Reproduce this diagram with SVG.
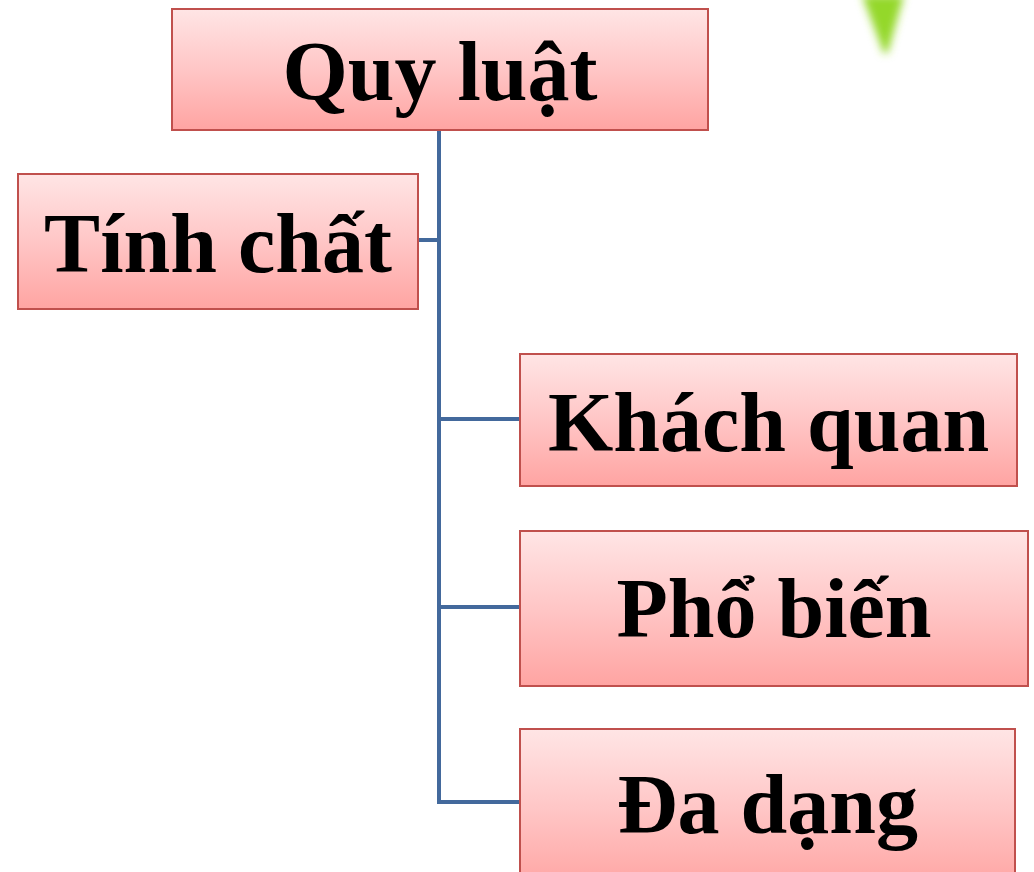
<svg xmlns="http://www.w3.org/2000/svg" width="1034" height="872" viewBox="0 0 1034 872">
<defs>
<linearGradient id="g" x1="0" y1="0" x2="0" y2="1">
<stop offset="0" stop-color="#ffe5e5"/>
<stop offset="0.5" stop-color="#ffc6c6"/>
<stop offset="1" stop-color="#ffa4a2"/>
</linearGradient>
<filter id="blur" x="-50%" y="-50%" width="200%" height="200%"><feGaussianBlur stdDeviation="4"/></filter>
<style>
.box{fill:url(#g);stroke:#c0504d;stroke-width:2}
.t{font-family:"Liberation Serif","Times New Roman",serif;font-weight:bold;font-size:84px;fill:#000;text-anchor:middle}
.c{fill:none;stroke:#43699c;stroke-width:4}
</style>
</defs>
<path d="M862,-5 L904,-5 L888,52 L884,54 Z" fill="#94d82a" filter="url(#blur)"/>
<g id="connectors">
<path class="c" d="M439,130 V802 H520"/>
<path class="c" d="M418,240 H439"/>
<path class="c" d="M439,419 H520"/>
<path class="c" d="M439,607 H520"/>
</g>
<g id="quy-luat"><rect class="box" x="172" y="9" width="536" height="121"/><text class="t" x="440" y="100">Quy luật</text></g>
<g id="tinh-chat"><rect class="box" x="18" y="174" width="400" height="135"/><text class="t" x="218" y="272">Tính chất</text></g>
<g id="khach-quan"><rect class="box" x="520" y="354" width="497" height="132"/><text class="t" x="768.5" y="451">Khách quan</text></g>
<g id="pho-bien"><rect class="box" x="520" y="531" width="508" height="155"/><text class="t" x="774" y="637">Phổ biến</text></g>
<g id="da-dang"><rect class="box" x="520" y="729" width="495" height="160"/><text class="t" x="767.5" y="833">Đa dạng</text></g>
</svg>
